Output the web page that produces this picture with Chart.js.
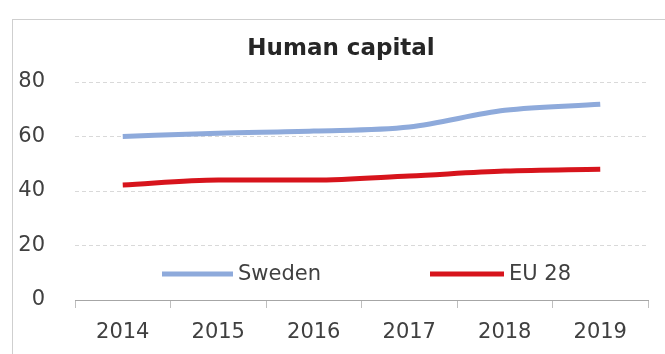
<!DOCTYPE html>
<html lang="en">
<head>
    <meta charset="UTF-8"/>
    <title>Human capital</title>
    <script src="https://cdn.jsdelivr.net/npm/chart.js"></script>
    <style>
        html, body {
            margin: 0;
            padding: 0;
            background-color: #fff;
            width: 665px;
            height: 354px;
            overflow: hidden;
        }

        .frame {
            position: absolute;
            left: 12px;
            top: 19px;
            width: 660px;
            height: 340px;
            border-top: 1px solid #cfcfcf;
            border-left: 1px solid #cfcfcf;
        }

        .chart-box {
            position: absolute;
            left: 0;
            top: 0;
            width: 665px;
            height: 354px;
        }
    </style>
</head>
<body>
<div class="frame"></div>
<div class="chart-box">
    <canvas id="hcChart" width="665" height="354"></canvas>
</div>

<script>
    const years = ['2014', '2015', '2016', '2017', '2018', '2019'];
    const swedenValues = [60, 61.2, 62, 63.5, 69.6, 71.8];
    const eu28Values = [42.2, 44, 44, 45.5, 47.3, 48];
    const yTicks = [0, 20, 40, 60, 80];
    const chartTitle = 'Human capital';

    const FONT = "'DejaVu Sans', sans-serif";

    // title is a bit right of the canvas centre in the original, so draw it here
    const titleText = {
        id: 'titleText',
        afterDraw(chart) {
            const ctx = chart.ctx;
            ctx.save();
            ctx.font = 'bold 23px ' + FONT;
            ctx.fillStyle = '#262626';
            ctx.textAlign = 'center';
            ctx.textBaseline = 'middle';
            ctx.fillText(chartTitle, 341, 49);
            ctx.restore();
        }
    };

    // legend sits inside the plot, between the 0 and 20 lines
    const insideLegend = {
        id: 'insideLegend',
        afterDatasetsDraw(chart) {
            const ctx = chart.ctx;
            const y = chart.scales.y.getPixelForValue(9.5);
            const spots = [[162, 233], [430, 504]];
            ctx.save();
            ctx.font = '21px ' + FONT;
            ctx.textBaseline = 'middle';
            chart.data.datasets.forEach((ds, i) => {
                const [x0, x1] = spots[i];
                ctx.strokeStyle = ds.borderColor;
                ctx.lineWidth = ds.borderWidth;
                ctx.beginPath();
                ctx.moveTo(x0, y);
                ctx.lineTo(x1, y);
                ctx.stroke();
                ctx.fillStyle = '#404040';
                ctx.fillText(ds.label, x1 + 5, y);
            });
            ctx.restore();
        }
    };

    const ctx = document.getElementById('hcChart').getContext('2d');

    new Chart(ctx, {
        type: 'line',
        data: {
            labels: years,
            datasets: [{
                label: 'Sweden',
                data: swedenValues,
                borderColor: '#8eaadb',
                borderWidth: 5,
                pointRadius: 0,
                cubicInterpolationMode: 'monotone'
            }, {
                label: 'EU 28',
                data: eu28Values,
                borderColor: '#d7141c',
                borderWidth: 5,
                pointRadius: 0,
                cubicInterpolationMode: 'monotone'
            }]
        },
        options: {
            responsive: false,
            animation: false,
            layout: {
                padding: { left: 0, right: 17, top: 82, bottom: 0 }
            },
            scales: {
                x: {
                    offset: true,
                    grid: {
                        offset: true,
                        drawOnChartArea: false,
                        tickLength: 8,
                        color: '#bfbfbf'
                    },
                    border: { color: '#a6a6a6', width: 1 },
                    ticks: {
                        color: '#404040',
                        font: { family: FONT, size: 21 },
                        padding: 12,
                        maxRotation: 0
                    },
                    afterFit(scale) { scale.height = 54; }
                },
                y: {
                    min: 0,
                    max: 80,
                    afterBuildTicks(scale) {
                        scale.ticks = yTicks.map(v => ({ value: v }));
                    },
                    grid: {
                        color: '#d9d9d9',
                        drawTicks: false
                    },
                    border: { display: false, dash: [4, 3] },
                    ticks: {
                        color: '#404040',
                        font: { family: FONT, size: 21 },
                        padding: 30
                    },
                    afterFit(scale) { scale.width = 75; }
                }
            },
            plugins: {
                legend: { display: false },
                tooltip: { enabled: false },
                title: { display: false }
            }
        },
        plugins: [insideLegend, titleText]
    });
</script>
</body>
</html>
